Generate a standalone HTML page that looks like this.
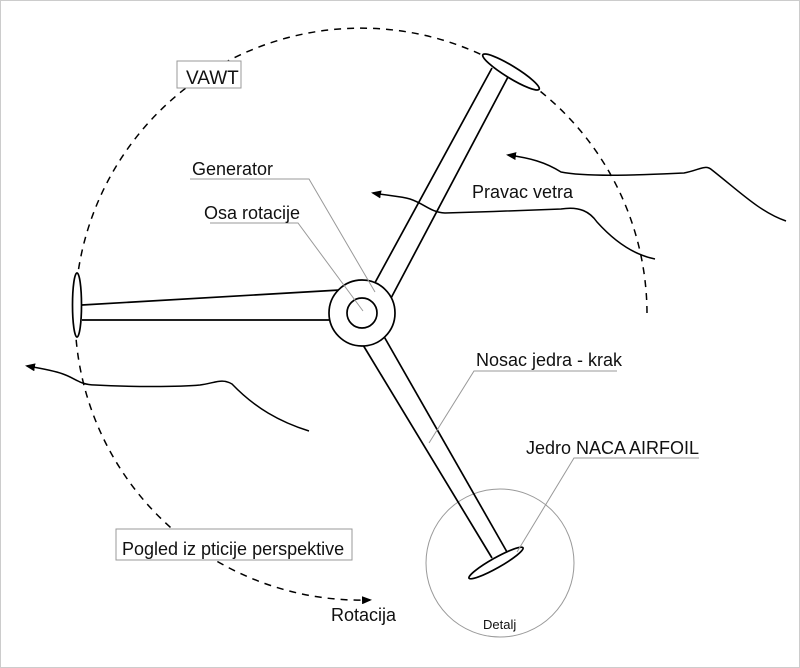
<!DOCTYPE html>
<html><head><meta charset="utf-8"><style>
html,body{margin:0;padding:0;background:#fff}
svg{display:block}
text{font-family:"Liberation Sans",sans-serif;fill:#111}
</style></head><body>
<svg width="800" height="668" viewBox="0 0 800 668" xmlns="http://www.w3.org/2000/svg">
<defs>
<marker id="ah" markerWidth="10" markerHeight="8" refX="2" refY="4" orient="auto" markerUnits="userSpaceOnUse">
<path d="M10,0 L0,4 L10,8 Z" fill="#000"/>
</marker>
<marker id="ar" markerWidth="10" markerHeight="8" refX="8" refY="4" orient="auto" markerUnits="userSpaceOnUse">
<path d="M0,0 L10,4 L0,8 Z" fill="#000"/>
</marker>
</defs>
<rect x="0.5" y="0.5" width="799" height="667" fill="#fff" stroke="#ccc"/>
<path d="M647,313 A286,286 0 1 0 370,600" fill="none" stroke="#000" stroke-width="1.5" stroke-dasharray="7,6" marker-end="url(#ar)"/>
<circle cx="500" cy="563" r="74" fill="none" stroke="#999" stroke-width="1"/>
<g fill="none" stroke="#000" stroke-width="1.5">
<path d="M508,155 C530,158 545,162 561,172 C590,178 660,174 684,173 C700,170 705,164 712,170 C740,192 760,212 786,221" marker-start="url(#ah)"/>
<path d="M373,193 C390,196 400,196 410,199 C425,204 430,212 445,213 C480,212 540,210 561,209 C580,206 590,212 597,222 C615,242 635,255 655,259" marker-start="url(#ah)"/>
<path d="M27,366 C45,369 55,371 63,374 C75,378 80,385 95,385 C130,387 180,387 200,385 C215,383 222,378 232,384 C255,408 280,422 309,431" marker-start="url(#ah)"/>
</g>
<g fill="none" stroke="#000" stroke-width="1.7">
<line x1="82" y1="305" x2="340" y2="290"/><line x1="82" y1="320" x2="340" y2="320"/>
<line x1="492" y1="68" x2="371" y2="290"/><line x1="508" y1="77" x2="390" y2="300"/>
<line x1="360" y1="340" x2="492" y2="558"/><line x1="382" y1="333" x2="507" y2="552"/>
</g>
<g fill="#fff" stroke="#000" stroke-width="1.7">
<circle cx="362" cy="313" r="33"/>
<circle cx="362" cy="313" r="15"/>
<ellipse cx="77" cy="305" rx="4.5" ry="32"/>
<ellipse cx="511" cy="72" rx="33" ry="6" transform="rotate(31.5 511 72)"/>
<ellipse cx="496" cy="563" rx="31" ry="5" transform="rotate(-29.4 496 563)"/>
</g>
<g fill="none" stroke="#999" stroke-width="1">
<polyline points="190,179 309,179 375,292"/>
<polyline points="210,223 298,223 363,311"/>
<polyline points="474,371 617,371 474,371 429,443"/>
<polyline points="574,458 699,458 574,458 517,552"/>
</g>
<rect x="177" y="61" width="64" height="27" fill="#fff" stroke="#999"/>
<text x="186" y="84" font-size="19">VAWT</text>
<rect x="116" y="529" width="236" height="31" fill="#fff" stroke="#999"/>
<text x="122" y="555" font-size="18">Pogled iz pticije perspektive</text>
<text x="192" y="175" font-size="18">Generator</text>
<text x="204" y="219" font-size="18">Osa rotacije</text>
<text x="472" y="198" font-size="18">Pravac vetra</text>
<text x="476" y="366" font-size="18">Nosac jedra - krak</text>
<text x="526" y="454" font-size="18">Jedro NACA AIRFOIL</text>
<text x="331" y="621" font-size="18">Rotacija</text>
<text x="483" y="629" font-size="13">Detalj</text>
</svg>
</body></html>
